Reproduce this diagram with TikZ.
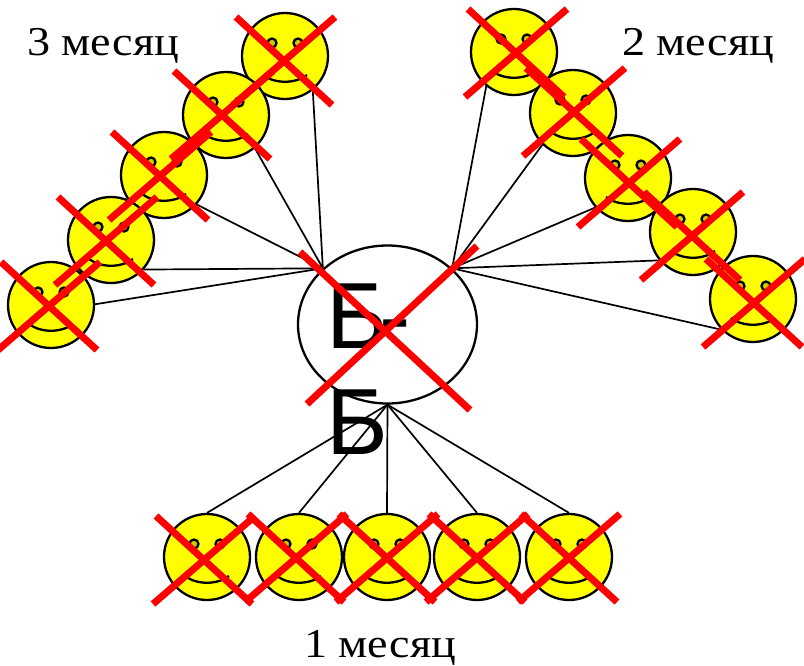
\documentclass[tikz,border=0pt]{standalone}
\usepackage{fontspec}
\setmainfont{Liberation Serif}
\newfontfamily\bigsans{Liberation Sans}
\usetikzlibrary{shapes.geometric}
\definecolor{eyeyellow}{rgb}{0.8,0.8,0}
\definecolor{faceyellow}{rgb}{1,1,0}
\definecolor{crossred}{rgb}{1,0,0}
\tikzset{
	smileface/.style={circle, draw=black, fill=faceyellow, line width=2.3pt, minimum size=86pt, inner sep=0pt},
	monthlabel/.style={anchor=base west, inner sep=0pt, font=\fontsize{41}{41}\selectfont},
	spoke/.style={line width=1.7pt},
	crossline/.style={line width=7pt, color=crossred}
}
\def\smiley#1(#2,#3){
	\node[smileface] (#1) at (#2, #3) {};
	\draw[line width=2.3pt, fill=eyeyellow] (#2-13, #3-13) circle (4.5pt);
	\draw[line width=2.3pt, fill=eyeyellow] (#2+13, #3-13) circle (4.5pt);
	\draw[line width=2.3pt] (#2-22, #3+19) .. controls (#2-10, #3+28) and (#2+10, #3+28) .. (#2+22, #3+19);
}
\def\crossout(#1,#2){
	\draw[crossline] (#1-48, #2-44) -- (#1+48, #2+44);
	\draw[crossline] (#1-51, #2+44) -- (#1+51, #2-44);
}

\begin{document}
\begin{tikzpicture}[x=1pt, y=-1pt]
	%%%%% START %%%%%
	\useasboundingbox (0, 0) rectangle (804, 665);

	\node[ellipse, draw=black, line width=2.3pt, minimum width=179pt, minimum height=158pt, inner sep=0pt] (bb) at (387.5, 324.5) {};
	\node[anchor=north west, inner sep=0pt, align=left, font=\bigsans\fontsize{94}{102}\selectfont] (bbtext) at (326, 284) {Б\kern-8pt-\\[4pt]Б};

	\smiley{ltop}(285, 56)
	\smiley{lb}(226, 115)
	\smiley{lc}(164, 175)
	\smiley{ld}(111, 240)
	\smiley{lend}(51, 305)

	\smiley{rtop}(514, 52)
	\smiley{rb}(573, 113)
	\smiley{rc}(628, 178)
	\smiley{rd}(693, 232)
	\smiley{rend}(753, 299)

	\smiley{ba}(207, 557)
	\smiley{bb2}(299, 557)
	\smiley{bc}(387, 557)
	\smiley{bd}(477, 557)
	\smiley{be}(569, 557)

	\draw[spoke] (ltop.-51) -- (bb.139);
	\draw[spoke] (lb.-49) -- (bb.139);
	\draw[spoke] (lc.-42) -- (bb.139);
	\draw[spoke] (ld.-42) -- (bb.139);
	\draw[spoke] (lend.1) -- (bb.139);

	\draw[spoke] (rtop.231) -- (bb.41);
	\draw[spoke] (rb.226) -- (bb.41);
	\draw[spoke] (rc.222) -- (bb.41);
	\draw[spoke] (rd.220) -- (bb.41);
	\draw[spoke] (rend.224) -- (bb.41);

	\draw[spoke] (ba.north) -- (bb.south);
	\draw[spoke] (bb2.north) -- (bb.south);
	\draw[spoke] (bc.north) -- (bb.south);
	\draw[spoke] (bd.north) -- (bb.south);
	\draw[spoke] (be.north) -- (bb.south);

	\crossout(284, 61)
	\crossout(222, 115)
	\crossout(160, 176)
	\crossout(106, 241)
	\crossout(49, 306)

	\crossout(516, 53)
	\crossout(574, 112)
	\crossout(629, 183)
	\crossout(692, 236)
	\crossout(754, 303)

	\crossout(204, 560)
	\crossout(296, 558)
	\crossout(387, 558)
	\crossout(477, 558)
	\crossout(569, 558)

	\draw[crossline] (300, 252) -- (470, 410);
	\draw[crossline] (477, 246) -- (307, 404);

	\node[monthlabel] (three) at (27, 55) {\scalebox{1.125}[1]{3 месяц}};
	\node[monthlabel] (two) at (622, 55) {\scalebox{1.125}[1]{2 месяц}};
	\node[monthlabel] (one) at (304, 657) {\scalebox{1.125}[1]{1 месяц}};
	%%%%% END %%%%%
\end{tikzpicture}
\end{document}
